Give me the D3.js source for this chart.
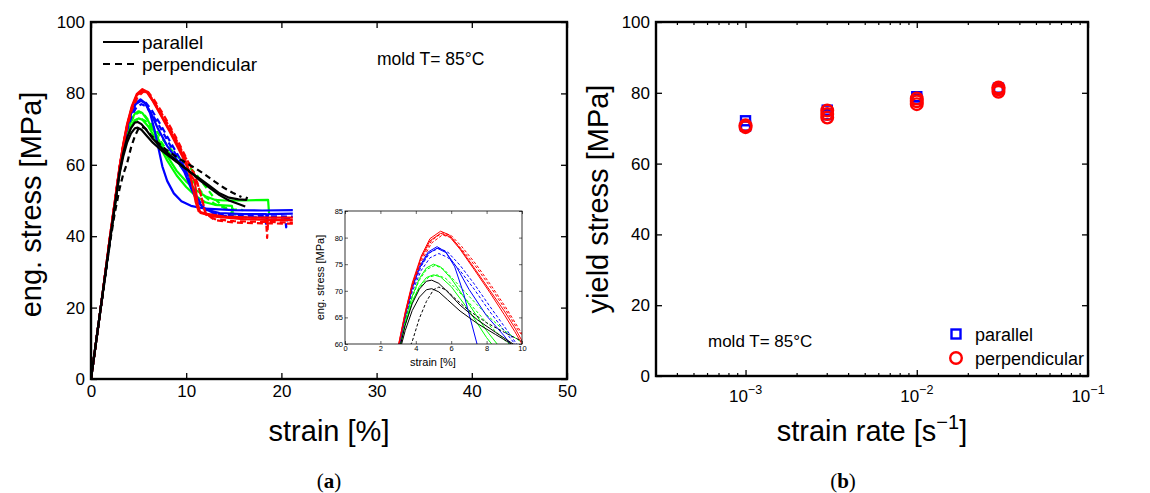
<!DOCTYPE html>
<html><head><meta charset="utf-8">
<script src="https://cdn.jsdelivr.net/npm/d3@7"></script>
<style>
body{margin:0;background:#fff}
text{font-family:"Liberation Sans",Arial,sans-serif;fill:#000}
</style>
</head><body>
<svg id="chart" width="1150" height="493"></svg>
<script>
// ---------- DATA (strain %, eng. stress MPa) ----------
const blackPar1 = [[0,0],[1,19.5],[2,39],[3,57.5],[3.4,62.5],[3.8,66.3],[4.2,68.8],[4.6,70.2],[4.9,70.4],[5.3,69.8],[5.8,68.3],[6.5,66.2],[7.5,63.8],[8.5,61.8],[9.5,59.8],[10.5,57.8],[11.5,56],[12.5,54],[13.5,52],[14.5,50.8],[15.5,50.3],[16.3,50.2],[16.4,51]];
const blackPar2 = [[0,0],[1,19.5],[2,39],[3,58],[3.4,63.5],[3.8,67.6],[4.2,70.3],[4.6,71.8],[4.9,72],[5.3,71.4],[5.8,69.8],[6.5,67.3],[7.5,64.5],[8.5,62.2],[9.5,60],[10.5,57.8],[11.5,55.5],[12.5,53.5],[13.5,51.5],[14.5,50],[15.5,49],[16.2,48.3]];
const blackPerp1 = [[0,0],[1,19.3],[2,38.3],[2.5,46.5],[3,53.3],[3.4,57.5],[3.8,60.5],[4.2,64.8],[4.6,68],[5,70.2],[5.3,70.7],[5.7,70.2],[6.3,68.3],[7,66.3],[8,64],[9,62.2],[10,60.5],[11,59],[12,57.2],[13,55.3],[14,53.5],[15,52],[15.8,51]];
const greenPar1 = [[0,0],[1,19.5],[2,39.5],[3,58.5],[3.4,64.5],[3.8,69],[4.2,72.3],[4.6,74.3],[5,75],[5.4,74.5],[6,72.3],[7,67.5],[8,62.5],[9,58.3],[10,55.3],[11,53],[12,51.2],[13,50.2],[14,50],[16,50],[18.6,50.2],[18.7,46.5]];
const greenPar2 = [[0,0],[1,19.5],[2,39.5],[3,58.2],[3.4,63.8],[3.8,68],[4.2,70.8],[4.6,72.5],[5,73],[5.4,72.6],[6,70.8],[7,66.3],[8,61.2],[9,57],[10,53.8],[11,51.3],[12,49.5],[13,48.8],[14.8,48.5],[14.9,46.8]];
const greenPerp1 = [[0,0],[1,19.5],[2,39.5],[3,58.3],[3.4,64.3],[3.8,68.8],[4.2,72],[4.6,74],[5.1,74.8],[5.6,74],[6.3,71.5],[7,69],[8,65.5],[9,62.5],[10,60.3],[11,57.5],[12,54],[13,50.5],[14,48],[15,46.3],[15.8,45.5]];
const greenPerp2 = [[0,0],[1,19.5],[2,39.3],[3,58],[3.4,63.7],[3.8,67.8],[4.2,70.5],[4.7,72.5],[5.2,73],[5.7,72.3],[6.3,70.3],[7,67.8],[8,64],[9,60.8],[10,57.8],[11,54.5],[12,51],[13,49],[14,48],[15,47.5],[16,47.3]];
const bluePar1 = [[0,0],[1,19.5],[2,39.5],[3,59],[3.4,65.5],[3.8,70.8],[4.2,74.5],[4.7,77.3],[5.2,78.3],[5.7,77.3],[6.2,74.5],[6.7,69.5],[7.1,64.5],[7.5,59.5],[8,55.5],[8.7,52],[9.5,49.8],[10.5,48.5],[12,47.7],[15,47.3],[18,47.2],[21.2,47.3]];
const bluePar2 = [[0,0],[1,19.5],[2,39.5],[3,59],[3.4,65.3],[3.8,70.5],[4.2,74.2],[4.7,77],[5.2,78],[5.7,77.2],[6.3,74.5],[7,70.3],[8,65.3],[9,61.5],[9.8,58],[10.5,53.5],[11.2,49.5],[12,47.5],[13.5,46.5],[16,46.2],[18.4,46.2],[18.5,44],[18.6,46.2],[21.2,46.3]];
const bluePerp1 = [[0,0],[1,19.5],[2,39.5],[3,58.8],[3.4,64.8],[3.8,69.8],[4.3,73.8],[4.8,76.2],[5.3,77],[5.8,76.3],[6.5,73.8],[7.3,70.3],[8.2,66],[9,62.5],[9.6,60],[10.3,56],[11,51.5],[11.8,48],[13,46.3],[15,45.8],[18.3,45.6],[18.4,43],[18.5,45.6],[21.2,45.5]];
const bluePerp2 = [[0,0],[1,19.5],[2,39.5],[3,59],[3.4,65.2],[3.8,70.3],[4.3,74.6],[4.8,77.2],[5.3,78],[5.8,77.3],[6.5,74.8],[7.3,71.3],[8.2,67],[9,63.3],[9.7,60],[10.4,55.5],[11.2,50.5],[12,47.5],[13.5,45.8],[16,45.3],[20.4,45.2],[20.5,42.5],[20.6,45],[21.2,45]];
const redPar1 = [[0,0],[1,19.5],[2,40],[3,59.5],[3.4,66],[3.8,71.5],[4.3,76.5],[4.8,79.8],[5.4,81.2],[5.9,80.5],[6.5,78],[7.3,74.3],[8.2,70],[9,66.2],[9.6,63],[10.1,60],[10.6,55],[11,49.5],[11.3,47],[12,46.3],[14,45.5],[17,45.2],[21.2,45.2]];
const redPar2 = [[0,0],[1,19.5],[2,40],[3,59.3],[3.4,65.8],[3.8,71.2],[4.3,76.2],[4.8,79.4],[5.4,80.8],[5.9,80.2],[6.5,77.8],[7.3,74],[8.2,69.6],[9,65.5],[9.6,62.3],[10,60],[10.5,57],[10.9,55.5],[11.2,49],[11.5,46.5],[13,45.5],[16,44.8],[18.4,44.6],[18.5,43.5],[18.6,44.6],[21.2,44.5]];
const redPerp1 = [[0,0],[1,19.5],[2,39.8],[3,59],[3.4,65.3],[3.8,70.7],[4.3,75.5],[4.9,79],[5.5,80.5],[6,80],[6.6,77.8],[7.4,74.5],[8.3,70.3],[9.1,66.3],[9.8,62.5],[10.4,60],[11,56.5],[11.6,51],[12.1,46],[13,44.8],[15,44.2],[18.4,44],[18.5,39.5],[18.6,44],[21.2,43.8]];
const redPerp2 = [[0,0],[1,19.5],[2,40],[3,59.3],[3.4,65.7],[3.8,71],[4.3,76],[4.9,79.5],[5.5,80.9],[6,80.4],[6.6,78.3],[7.4,75],[8.3,70.8],[9.1,66.8],[9.8,63],[10.3,60.3],[10.9,57],[11.5,52],[12,46.5],[13,44.5],[15,43.8],[18,43.6],[21.2,43.5]];

// series: strain-rate group + orientation
const curves = [
  {rate:"3e-3", orient:"parallel", data:greenPar1},
  {rate:"3e-3", orient:"parallel", data:greenPar2},
  {rate:"3e-3", orient:"perpendicular", data:greenPerp1},
  {rate:"3e-3", orient:"perpendicular", data:greenPerp2},
  {rate:"1e-2", orient:"parallel", data:bluePar1},
  {rate:"1e-2", orient:"parallel", data:bluePar2},
  {rate:"1e-2", orient:"perpendicular", data:bluePerp1},
  {rate:"1e-2", orient:"perpendicular", data:bluePerp2},
  {rate:"3e-2", orient:"parallel", data:redPar1},
  {rate:"3e-2", orient:"parallel", data:redPar2},
  {rate:"3e-2", orient:"perpendicular", data:redPerp1},
  {rate:"3e-2", orient:"perpendicular", data:redPerp2},
  {rate:"1e-3", orient:"parallel", data:blackPar1},
  {rate:"1e-3", orient:"parallel", data:blackPar2},
  {rate:"1e-3", orient:"perpendicular", data:blackPerp1}
];

const strainTicks = [0,10,20,30,40,50];
const stressTicks = [0,20,40,60,80,100];
const insetStrainTicks = [0,2,4,6,8,10];
const insetStressTicks = [60,65,70,75,80,85];

// yield stress vs strain rate
const rates = [1e-3, 3e-3, 1e-2, 3e-2];
const yieldParallel = [[72.1,70.6],[75.1,73.8],[78.9,78.2],[81.3,80.9]];
const yieldPerpendicular = [[70.3,70.8],[73.0,74.0,75.0],[76.8,77.6,78.4],[80.3,81.0,81.5]];
const rateTicks = [1e-3, 1e-2, 1e-1];
const rateTickExp = ["−3","−2","−1"];
const yieldTicks = [0,20,40,60,80,100];

// ---------- STYLE ----------
const rateColor = {"1e-3":"#000000","3e-3":"#00ff00","1e-2":"#0000ff","3e-2":"#ff0000"};
const svg = d3.select("#chart");

function boxAxes(g, x, y, xt, yt, opt) {
  const [x0,x1] = x.range(), [y0,y1] = y.range();
  const ts = opt.tick;
  const ab = g.append("g").attr("transform",`translate(0,${y0})`)
    .call(d3.axisBottom(x).tickValues(xt).tickSize(-ts).tickPadding(opt.pad).tickFormat(opt.xf||d3.format("d")));
  const at = g.append("g").attr("transform",`translate(0,${y1})`)
    .call(d3.axisTop(x).tickValues(xt).tickSize(-ts).tickFormat(""));
  const al = g.append("g").attr("transform",`translate(${x0},0)`)
    .call(d3.axisLeft(y).tickValues(yt).tickSize(-ts).tickPadding(opt.pad).tickFormat(d3.format("d")));
  const ar = g.append("g").attr("transform",`translate(${x1},0)`)
    .call(d3.axisRight(y).tickValues(yt).tickSize(-ts).tickFormat(""));
  [ab,at,al,ar].forEach(a=>{
    a.select(".domain").remove();
    a.selectAll("line").attr("stroke","#000").attr("stroke-width",opt.tw);
    a.selectAll("text").attr("font-size",opt.fs).attr("font-family","Liberation Sans, Arial, sans-serif").attr("fill","#000");
  });
  g.append("rect").attr("x",x0).attr("y",y1).attr("width",x1-x0).attr("height",y0-y1)
    .attr("fill","none").attr("stroke","#000").attr("stroke-width",opt.bw);
  return {ab,al};
}

// ---------- LEFT PANEL ----------
const xL = d3.scaleLinear().domain([0,50]).range([91,567]);
const yL = d3.scaleLinear().domain([0,100]).range([379,22]);
const gL = svg.append("g");
svg.append("defs").append("clipPath").attr("id","clipL")
  .append("rect").attr("x",91).attr("y",22).attr("width",476).attr("height",357);
const lineL = d3.line().x(d=>xL(d[0])).y(d=>yL(d[1]));
gL.append("g").attr("clip-path","url(#clipL)").selectAll("path").data(curves).join("path")
  .attr("d",d=>lineL(d.data)).attr("fill","none")
  .attr("stroke",d=>rateColor[d.rate]).attr("stroke-width",2.2)
  .attr("stroke-linejoin","round")
  .attr("stroke-dasharray",d=>d.orient==="perpendicular"?"6,4":null);
boxAxes(gL, xL, yL, strainTicks, stressTicks, {tick:6, pad:6, fs:17, tw:1.3, bw:2.4});

gL.append("text").attr("x",xL(25)).attr("y",441).attr("text-anchor","middle").attr("font-size",29).text("strain [%]");
gL.append("text").attr("transform",`translate(41,${(22+379)/2+4}) rotate(-90)`).attr("text-anchor","middle").attr("font-size",29).text("eng. stress [MPa]");

// legend
const legL = gL.append("g");
legL.append("line").attr("x1",103).attr("x2",139).attr("y1",42).attr("y2",42).attr("stroke","#000").attr("stroke-width",2.2);
legL.append("line").attr("x1",103).attr("x2",139).attr("y1",64).attr("y2",64).attr("stroke","#000").attr("stroke-width",2.2).attr("stroke-dasharray","7,5");
legL.append("text").attr("x",142).attr("y",49).attr("font-size",19).text("parallel");
legL.append("text").attr("x",142).attr("y",71).attr("font-size",19).text("perpendicular");
gL.append("text").attr("x",377).attr("y",65).attr("font-size",17.5).text("mold T= 85°C");

// inset
const xI = d3.scaleLinear().domain([0,10]).range([345,522]);
const yI = d3.scaleLinear().domain([60,85]).range([344,211]);
svg.select("defs").append("clipPath").attr("id","clipI")
  .append("rect").attr("x",345).attr("y",211).attr("width",177).attr("height",133);
const gI = svg.append("g");
gI.append("rect").attr("x",345).attr("y",211).attr("width",177).attr("height",133).attr("fill","#fff");
const lineI = d3.line().x(d=>xI(d[0])).y(d=>yI(d[1]));
gI.append("g").attr("clip-path","url(#clipI)").selectAll("path").data(curves).join("path")
  .attr("d",d=>lineI(d.data)).attr("fill","none")
  .attr("stroke",d=>rateColor[d.rate]).attr("stroke-width",1)
  .attr("stroke-dasharray",d=>d.orient==="perpendicular"?"3,2":null);
boxAxes(gI, xI, yI, insetStrainTicks, insetStressTicks, {tick:3, pad:2, fs:7.5, tw:0.6, bw:0.8});
gI.append("text").attr("x",433).attr("y",366).attr("text-anchor","middle").attr("font-size",11).text("strain [%]");
gI.append("text").attr("transform",`translate(324,${(211+344)/2}) rotate(-90)`).attr("text-anchor","middle").attr("font-size",11).text("eng. stress [MPa]");

// ---------- RIGHT PANEL ----------
const xR = d3.scaleLog().domain([3e-4,1e-1]).range([656,1088]);
const yR = d3.scaleLinear().domain([0,100]).range([376,22]);
const gR = svg.append("g");
boxAxes(gR, xR, yR, rateTicks, yieldTicks, {tick:6, pad:6, fs:17, tw:1.3, bw:2.4, xf:()=>""});
// minor log ticks
const minor = xR.ticks().filter(v=>!rateTicks.some(t=>Math.abs(t-v)/t<1e-6) && v>=3e-4);
gR.append("g").selectAll("line").data(minor).join("line")
  .attr("x1",d=>xR(d)).attr("x2",d=>xR(d)).attr("y1",376).attr("y2",373).attr("stroke","#000").attr("stroke-width",1.2);
gR.append("g").selectAll("line").data(minor).join("line")
  .attr("x1",d=>xR(d)).attr("x2",d=>xR(d)).attr("y1",22).attr("y2",25).attr("stroke","#000").attr("stroke-width",1.2);
// decade labels with superscripts
const lab = gR.append("g").selectAll("text").data(rateTicks).join("text")
  .attr("x",d=>xR(d)).attr("y",402).attr("text-anchor","middle").attr("font-size",17);
lab.append("tspan").text("10");
lab.append("tspan").attr("dy",-8).attr("font-size",12.5).text((d,i)=>rateTickExp[i]);

// markers
const parPts = rates.flatMap((r,i)=>yieldParallel[i].map(v=>[r,v]));
const perpPts = rates.flatMap((r,i)=>yieldPerpendicular[i].map(v=>[r,v]));
gR.append("g").selectAll("rect").data(parPts).join("rect")
  .attr("x",d=>xR(d[0])-4.5).attr("y",d=>yR(d[1])-4.5).attr("width",9).attr("height",9)
  .attr("fill","none").attr("stroke","#0000ff").attr("stroke-width",2.4);
gR.append("g").selectAll("circle").data(perpPts).join("circle")
  .attr("cx",d=>xR(d[0])).attr("cy",d=>yR(d[1])).attr("r",5.8)
  .attr("fill","none").attr("stroke","#ff0000").attr("stroke-width",2.4);

// legend right
gR.append("rect").attr("x",951.5).attr("y",329.5).attr("width",9).attr("height",9).attr("fill","none").attr("stroke","#0000ff").attr("stroke-width",2.4);
gR.append("circle").attr("cx",956).attr("cy",358).attr("r",5.8).attr("fill","none").attr("stroke","#ff0000").attr("stroke-width",2.4);
gR.append("text").attr("x",975).attr("y",341).attr("font-size",18).text("parallel");
gR.append("text").attr("x",975).attr("y",365).attr("font-size",18).text("perpendicular");
gR.append("text").attr("x",708).attr("y",347).attr("font-size",17).text("mold T= 85°C");

// titles
const xt = gR.append("text").attr("x",(656+1088)/2).attr("y",441).attr("text-anchor","middle").attr("font-size",29);
xt.append("tspan").text("strain rate [s");
xt.append("tspan").attr("dy",-12).attr("font-size",20).text("−1");
xt.append("tspan").attr("dy",12).text("]");
gR.append("text").attr("transform",`translate(608,${(22+376)/2}) rotate(-90)`).attr("text-anchor","middle").attr("font-size",29).text("yield stress [MPa]");

// panel captions
svg.append("text").attr("x",329).attr("y",488).attr("text-anchor","middle").attr("font-size",21)
  .style("font-family","Liberation Serif, serif")
  .html('(<tspan font-weight="bold">a</tspan>)');
svg.append("text").attr("x",843).attr("y",488).attr("text-anchor","middle").attr("font-size",21)
  .style("font-family","Liberation Serif, serif")
  .html('(<tspan font-weight="bold">b</tspan>)');
</script>
</body></html>
